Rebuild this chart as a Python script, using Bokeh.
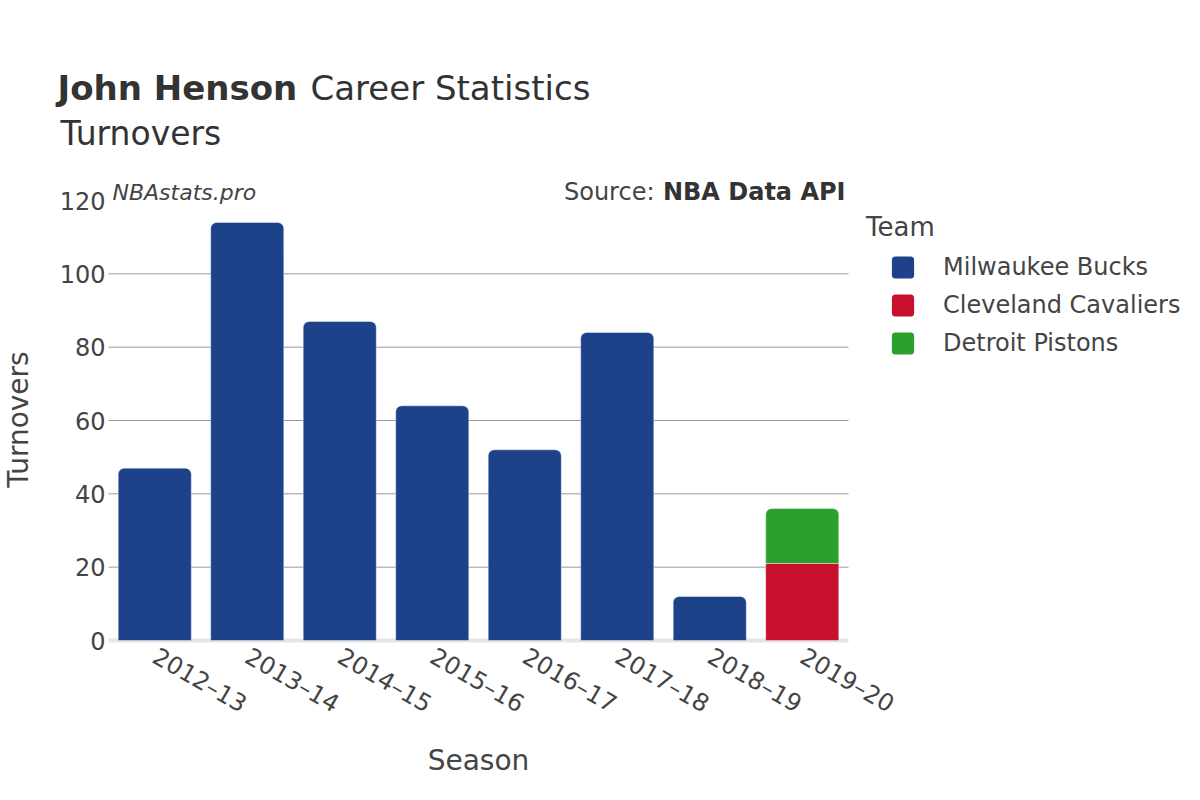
import math
from bokeh.plotting import figure
from bokeh.models import (ColumnDataSource, Label, Legend, LegendItem,
                          Range1d, FixedTicker)
from bokeh.embed import file_html
from bokeh.resources import INLINE

seasons = ["2012–13", "2013–14", "2014–15", "2015–16", "2016–17",
           "2017–18", "2018–19", "2019–20"]
teams = ["Milwaukee Bucks", "Cleveland Cavaliers", "Detroit Pistons"]
colors = ["#1d428a", "#c8102e", "#2ca02c"]
bucks = [47, 114, 87, 64, 52, 84, 12, 0]
cavaliers = [0, 0, 0, 0, 0, 0, 0, 21]
pistons = [0, 0, 0, 0, 0, 0, 0, 15]
y_ticks = [0, 20, 40, 60, 80, 100, 120]
grid_ticks = [20, 40, 60, 80, 100]

FONT = "DejaVu Sans"
TXT = "#444444"
DARK = "#333333"

# canvas and plot-area geometry (pixels)
W, H = 1190, 790
PX_L, PX_R = 108, 848      # plot area left / right
PY_T, PY_B = 200, 640      # y of top tick / zero line
Y_TOP = 120

n = len(seasons)
x_per_px = n / (PX_R - PX_L)
y_per_px = Y_TOP / (PY_B - PY_T)
x_range = Range1d(-0.5 - PX_L * x_per_px, -0.5 + (W - PX_L) * x_per_px)
y_range = Range1d(-(H - PY_B) * y_per_px, Y_TOP + PY_T * y_per_px)

p = figure(width=W, height=H, x_range=x_range, y_range=y_range,
           output_backend="svg", toolbar_location=None, tools="",
           min_border=0, min_border_left=0, min_border_right=0,
           min_border_top=0, min_border_bottom=0)
p.outline_line_color = None
p.background_fill_color = "white"
p.grid.visible = False

xs = list(range(n))

# grid lines and zero line, spanning the category area only
p.segment(x0=[-0.5] * len(grid_ticks), x1=[n - 0.5] * len(grid_ticks),
          y0=grid_ticks, y1=grid_ticks, line_color="#999999", line_width=1)
p.segment(x0=[-0.5], x1=[n - 0.5], y0=[0], y1=[0], line_color="#e6e6e6",
          line_width=4)

series = [bucks, cavaliers, pistons]
bottoms = [0] * n
swatches = []
for i, (team, vals, col) in enumerate(zip(teams, series, colors)):
    tops = [b + v for b, v in zip(bottoms, vals)]
    rounded = dict(x=[], bottom=[], top=[])
    square = dict(x=[], bottom=[], top=[])
    mids = dict(x=[], y=[])
    for j in range(n):
        if vals[j] <= 0:
            continue
        later = sum(series[k][j] for k in range(i + 1, len(series)))
        d = rounded if later == 0 else square
        d["x"].append(xs[j])
        d["bottom"].append(bottoms[j])
        d["top"].append(tops[j])
        mids["x"].append(xs[j])
        mids["y"].append((bottoms[j] + tops[j]) / 2)
    # legend swatch renderer, hidden underneath the bars it describes
    sw = p.scatter(x="x", y="y", source=ColumnDataSource(mids),
                   marker="square", size=4, fill_color=col, line_color=col,
                   line_width=7, line_join="round")
    swatches.append(sw)
    p.vbar(x="x", bottom="bottom", top="top", width=0.79,
           source=ColumnDataSource(rounded), fill_color=col,
           line_color="white", line_alpha=0.4, line_width=1,
           border_radius=(6, 6, 0, 0))
    p.vbar(x="x", bottom="bottom", top="top", width=0.79,
           source=ColumnDataSource(square), fill_color=col,
           line_color="white", line_alpha=0.4, line_width=1)
    bottoms = tops

# axes, pinned to the zero line and the left edge of the category area
p.xaxis.fixed_location = 0
p.yaxis.fixed_location = -0.5
p.xaxis.ticker = FixedTicker(ticks=xs)
p.xaxis.major_label_overrides = {x: s for x, s in zip(xs, seasons)}
p.yaxis.ticker = FixedTicker(ticks=y_ticks)
for ax in (p.xaxis, p.yaxis):
    ax.axis_line_color = None
    ax.major_tick_line_color = None
    ax.minor_tick_line_color = None
    ax.major_label_text_font = FONT
    ax.major_label_text_font_size = "24px"
    ax.major_label_text_color = TXT
p.xaxis.major_label_orientation = -math.pi / 6
p.xaxis.major_label_standoff = 8
p.yaxis.major_tick_out = 0
p.yaxis.major_tick_in = 0
p.yaxis.major_label_standoff = 3


def note(x, y, text, size, style="normal", color=TXT, align="left",
         angle=0.0):
    p.add_layout(Label(x=x, y=H - y, x_units="screen", y_units="screen",
                       text=text, text_font=FONT, text_font_size=size,
                       text_font_style=style, text_color=color,
                       text_align=align, text_baseline="middle",
                       angle=angle))


# titles
note(57, 87, "John Henson", "34px", "bold", DARK)
note(310, 87, "Career Statistics", "34px", "normal", DARK)
note(60, 133, "Turnovers", "33px", "normal", DARK)
# site / source
note(112, 192, "NBAstats.pro", "22px", "italic", TXT)
note(845, 191, "NBA Data API", "24px", "bold", DARK, align="right")
note(845 - 191, 191, "Source:", "24px", "normal", TXT, align="right")
# axis titles
note(18, 419, "Turnovers", "28px", "normal", TXT, align="center",
     angle=math.pi / 2)
note(478, 760, "Season", "28px", "normal", TXT, align="center")

legend = Legend(items=[LegendItem(label=t, renderers=[r])
                       for t, r in zip(teams, swatches)],
                location=(866, H - 362), title="Team",
                title_text_font=FONT, title_text_font_size="26px",
                title_text_font_style="normal",
                title_text_color=TXT, title_standoff=6,
                label_text_font=FONT, label_text_font_size="24px",
                label_text_color=TXT, glyph_width=73, glyph_height=38,
                label_standoff=4, spacing=0, padding=8, margin=0,
                border_line_color=None, background_fill_alpha=0)
p.add_layout(legend, "center")

open("out.html", "w").write(file_html(p, INLINE))
